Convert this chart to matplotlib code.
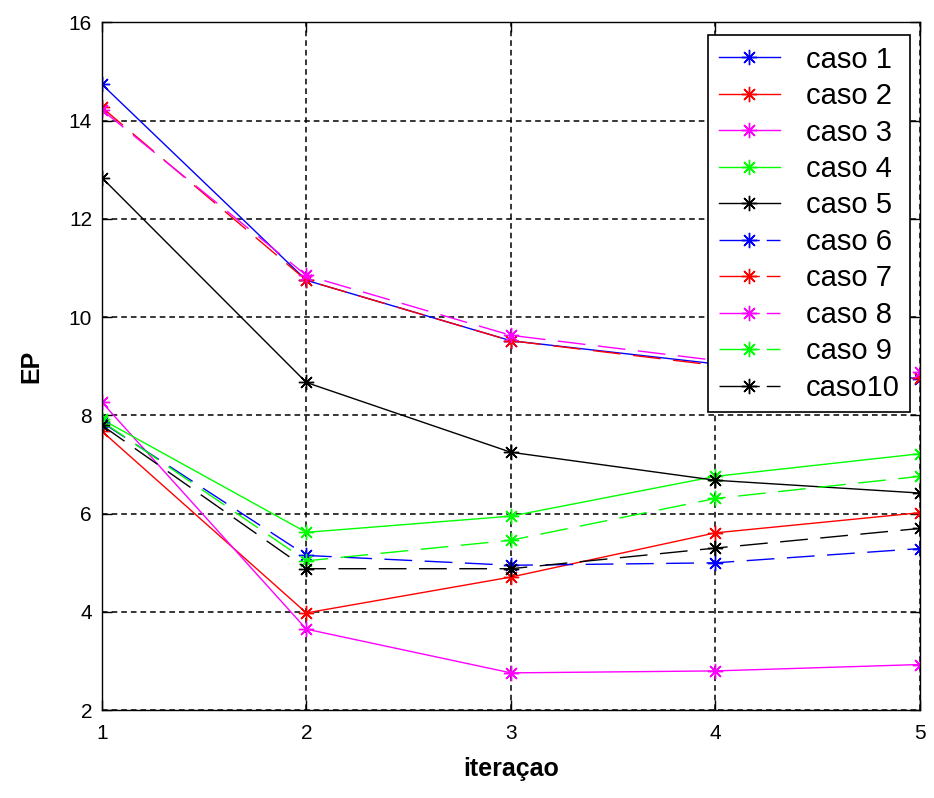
import matplotlib
matplotlib.use("Agg")
import matplotlib.pyplot as plt

plt.rcParams["font.family"] = ["Liberation Sans", "DejaVu Sans"]

iteracao = [1, 2, 3, 4, 5]

caso1 = [14.74, 10.75, 9.52, 9.05, 8.75]
caso2 = [7.68, 3.98, 4.71, 5.61, 6.02]
caso3 = [8.27, 3.65, 2.76, 2.80, 2.93]
caso4 = [7.92, 5.62, 5.95, 6.76, 7.22]
caso5 = [12.84, 8.67, 7.25, 6.68, 6.42]
caso6 = [7.86, 5.15, 4.95, 5.00, 5.29]
caso7 = [14.27, 10.75, 9.52, 9.02, 8.76]
caso8 = [14.22, 10.85, 9.63, 9.12, 8.88]
caso9 = [7.88, 5.04, 5.46, 6.31, 6.76]
caso10 = [7.80, 4.88, 4.88, 5.30, 5.70]

casos = [caso1, caso2, caso3, caso4, caso5, caso6, caso7, caso8, caso9, caso10]
nomes = ["caso 1", "caso 2", "caso 3", "caso 4", "caso 5",
         "caso 6", "caso 7", "caso 8", "caso 9", "caso10"]
cores = ["#0000ff", "#ff0000", "#ff00ff", "#00ff00", "#000000"] * 2
estilos = ["-"] * 5 + [(0, (20, 9))] * 5

fig = plt.figure(figsize=(9.34, 7.98), dpi=100)
ax = fig.add_axes([0.109, 0.110, 0.876, 0.862])

for valores, nome, cor, ls in zip(casos, nomes, cores, estilos):
    ax.plot(iteracao, valores, color=cor, linestyle=ls, linewidth=1.0,
            marker=(8, 2, 0), markersize=11, markeredgewidth=1.0,
            label=nome)

ax.set_xlim(1, 5)
ax.set_ylim(2, 16)
ax.set_xticks([1, 2, 3, 4, 5])
ax.set_yticks(range(2, 17, 2))
ax.grid(True, color="black", linestyle=(0, (3.7, 2.6)), linewidth=1.1)
ax.tick_params(direction="in", length=7, labelsize=15, width=1,
               top=True, right=True)
ax.tick_params(axis="x", pad=10)
ax.tick_params(axis="y", pad=7)
for s in ax.spines.values():
    s.set_linewidth(1)

ax.set_xlabel("iteraçao", fontsize=18, fontweight="bold", labelpad=10)
ax.set_ylabel("EP", fontsize=18, fontweight="bold", labelpad=18)

leg = ax.legend(loc="upper right", bbox_to_anchor=(0.988, 0.981),
                fontsize=21, fancybox=False, framealpha=1,
                edgecolor="black", borderaxespad=0,
                handlelength=2.1, labelspacing=0.29, handletextpad=0.9,
                borderpad=0.35)
leg.get_frame().set_linewidth(1.2)
# tracejado curto na legenda, como no original
for h in leg.get_lines()[5:]:
    h.set_linestyle((0, (29, 5)))

fig.savefig("out.png", dpi=100)
